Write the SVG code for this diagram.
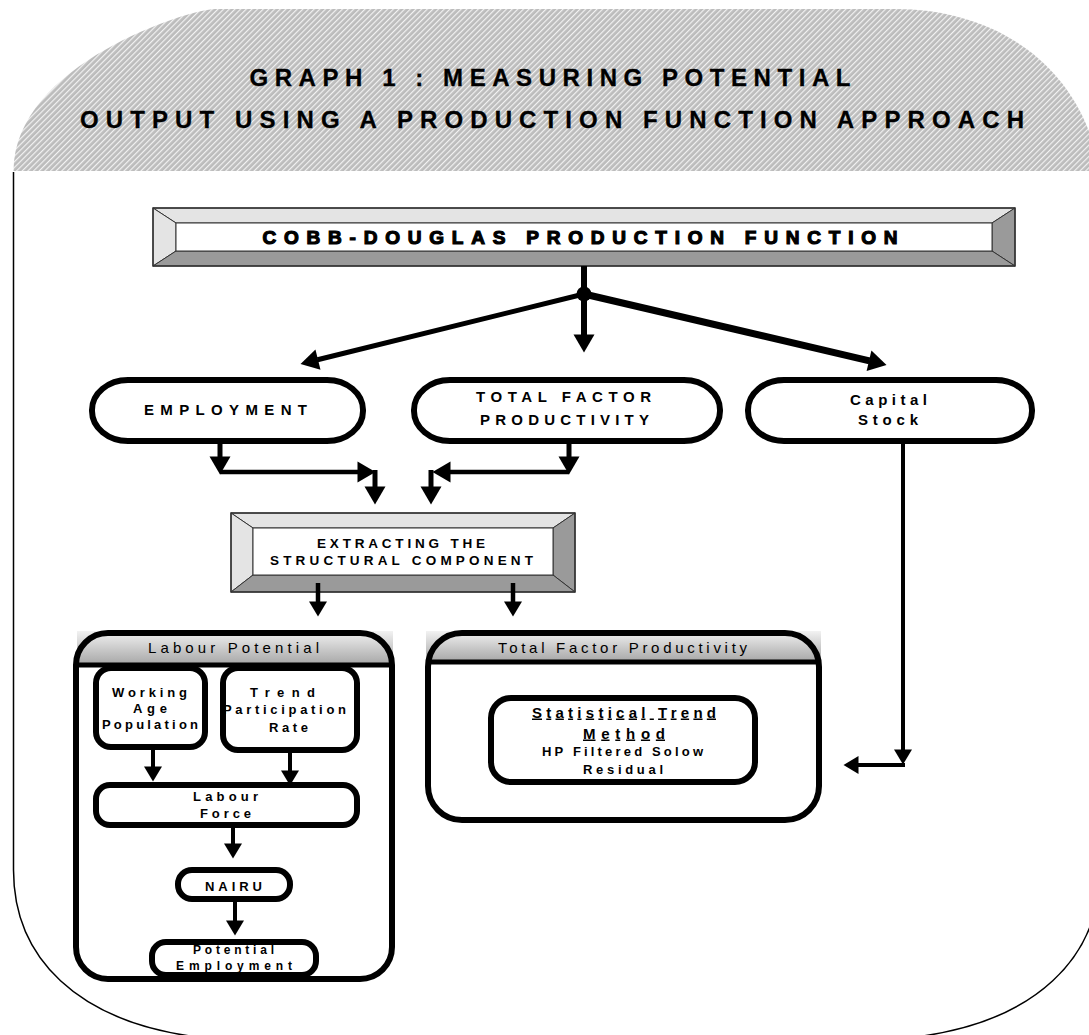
<svg xmlns="http://www.w3.org/2000/svg" width="1089" height="1035" viewBox="0 0 1089 1035">
<style>
text{font-family:"Liberation Sans",Arial,sans-serif;fill:#000;text-anchor:middle}
.b{font-weight:bold}
.node{fill:#fff;stroke:#000;stroke-width:6}
.conn{fill:none;stroke:#000;stroke-linecap:butt}
.bevL{fill:#e4e4e4;stroke:#333;stroke-width:1}
.bevD{fill:#9a9a9a;stroke:#333;stroke-width:1}
</style>
<defs>
<pattern id="hatch" patternUnits="userSpaceOnUse" width="4" height="4" patternTransform="rotate(45)">
<rect width="4" height="4" fill="#bcbcbc"/>
<rect width="1.2" height="4" fill="#f2f2f2"/>
</pattern>
<linearGradient id="hdr" x1="0" y1="0" x2="0" y2="1">
<stop offset="0" stop-color="#f2f2f2"/>
<stop offset="0.6" stop-color="#c4c4c4"/>
<stop offset="1" stop-color="#a6a6a6"/>
</linearGradient>
<marker id="ah" markerUnits="userSpaceOnUse" markerWidth="20" markerHeight="22" viewBox="0 -11 19 22" refX="0.5" refY="0" orient="auto">
<path d="M0,-10.5 L18,0 L0,10.5 z" fill="#000"/>
</marker>
<marker id="as" markerUnits="userSpaceOnUse" markerWidth="17" markerHeight="20" viewBox="0 -10 16 20" refX="0.5" refY="0" orient="auto">
<path d="M0,-9 L15,0 L0,9 z" fill="#000"/>
</marker>
</defs>

<g id="frame">
<path d="M13.5,171 C13.5,64 190,9 215,9 H896 C990,9 1080,60 1100,171 Z" fill="url(#hatch)"/>
<path d="M13.5,172 V870 C13.5,960 80,1020 190,1036 M1100,870 C1100,960 1033,1020 923,1036" fill="none" stroke="#000" stroke-width="1.5"/>
<text class="b" x="550" y="86" font-size="24" stroke="#000" stroke-width="0.3" textLength="601" lengthAdjust="spacing">GRAPH 1 : MEASURING POTENTIAL</text>
<text class="b" x="552" y="128" font-size="24" stroke="#000" stroke-width="0.3" textLength="944" lengthAdjust="spacing">OUTPUT USING A PRODUCTION FUNCTION APPROACH</text>
</g>

<g id="cobb-douglas">
<polygon class="bevL" points="153,208 1015,208 992,223 176,223"/>
<polygon class="bevL" points="153,208 176,223 176,251 153,266"/>
<polygon class="bevD" points="1015,208 1015,266 992,251 992,223"/>
<polygon class="bevD" points="153,266 176,251 992,251 1015,266"/>
<rect x="176" y="223" width="816" height="28" fill="#fff" stroke="#333" stroke-width="1"/>
<rect x="153" y="208" width="862" height="58" fill="none" stroke="#333" stroke-width="1.5"/>
<text class="b" x="580" y="244" font-size="19" stroke="#000" stroke-width="1.2" textLength="635" lengthAdjust="spacing">COBB-DOUGLAS PRODUCTION FUNCTION</text>
</g>

<g id="employment">
<rect class="node" x="92" y="380" width="271" height="61" rx="36" ry="30"/>
<text class="b" x="225.5" y="414.5" font-size="15" textLength="163" lengthAdjust="spacing">EMPLOYMENT</text>
</g>

<g id="tfp">
<rect class="node" x="414" y="380" width="306" height="61" rx="36" ry="30"/>
<text class="b" x="563.5" y="402" font-size="15" textLength="175" lengthAdjust="spacing">TOTAL FACTOR</text>
<text class="b" x="564.5" y="424.5" font-size="15" textLength="169" lengthAdjust="spacing">PRODUCTIVITY</text>
</g>

<g id="capital-stock">
<rect class="node" x="748" y="380" width="284" height="61" rx="36" ry="30"/>
<text class="b" x="888.5" y="405" font-size="15" textLength="77" lengthAdjust="spacing">Capital</text>
<text class="b" x="888" y="424.5" font-size="15" textLength="60" lengthAdjust="spacing">Stock</text>
</g>

<g id="extracting">
<polygon class="bevL" points="231,513 575,513 553,528 253,528"/>
<polygon class="bevL" points="231,513 253,528 253,575 231,592"/>
<polygon class="bevD" points="575,513 575,592 553,575 553,528"/>
<polygon class="bevD" points="231,592 253,575 553,575 575,592"/>
<rect x="253" y="528" width="300" height="47" fill="#fff" stroke="#333" stroke-width="1"/>
<rect x="231" y="513" width="344" height="79" fill="none" stroke="#333" stroke-width="1.5"/>
<text class="b" x="401" y="548" font-size="13.5" textLength="168" lengthAdjust="spacing">EXTRACTING THE</text>
<text class="b" x="401.5" y="565" font-size="13.5" textLength="263" lengthAdjust="spacing">STRUCTURAL COMPONENT</text>
</g>

<g id="labour-potential">
<rect x="77" y="631" width="316" height="34" fill="url(#hdr)"/>
<rect x="76" y="633" width="316" height="346" rx="32" ry="32" fill="none" stroke="#000" stroke-width="6"/>
<line x1="76" y1="665" x2="392" y2="665" stroke="#000" stroke-width="5"/>
<text x="233.5" y="652.5" font-size="15" textLength="171" lengthAdjust="spacing">Labour Potential</text>
</g>

<g id="working-age-population">
<rect class="node" x="96" y="668" width="109" height="79" rx="15"/>
<text class="b" x="149.5" y="697" font-size="13" textLength="75" lengthAdjust="spacing">Working</text>
<text class="b" x="150" y="713" font-size="13" textLength="34" lengthAdjust="spacing">Age</text>
<text class="b" x="150" y="729" font-size="13" textLength="96" lengthAdjust="spacing">Population</text>
</g>

<g id="trend-participation-rate">
<rect class="node" x="223" y="668" width="134" height="82" rx="15"/>
<text class="b" x="282.5" y="697" font-size="13" textLength="65" lengthAdjust="spacing">Trend</text>
<text class="b" x="284.5" y="714" font-size="13" textLength="123" lengthAdjust="spacing">Participation</text>
<text class="b" x="288.5" y="732" font-size="13" textLength="39" lengthAdjust="spacing">Rate</text>
</g>

<g id="labour-force">
<rect class="node" x="96" y="785" width="261" height="40" rx="14"/>
<text class="b" x="225.5" y="801" font-size="13" textLength="65" lengthAdjust="spacing">Labour</text>
<text class="b" x="225.5" y="818" font-size="13" textLength="51" lengthAdjust="spacing">Force</text>
</g>

<g id="nairu">
<rect class="node" x="178" y="870" width="112" height="29" rx="14"/>
<text class="b" x="233.5" y="891" font-size="13" textLength="57" lengthAdjust="spacing">NAIRU</text>
</g>

<g id="potential-employment">
<rect class="node" x="152" y="942" width="164" height="33" rx="14"/>
<text class="b" x="233.5" y="954" font-size="12" textLength="81" lengthAdjust="spacing">Potential</text>
<text class="b" x="234" y="970" font-size="12" textLength="116" lengthAdjust="spacing">Employment</text>
</g>

<g id="tfp-container">
<rect x="426" y="631" width="395" height="31" fill="url(#hdr)"/>
<rect x="428" y="633" width="391" height="187" rx="34" ry="34" fill="none" stroke="#000" stroke-width="6"/>
<line x1="428" y1="662" x2="819" y2="662" stroke="#000" stroke-width="5"/>
<text x="622.5" y="652.5" font-size="15" textLength="249" lengthAdjust="spacing">Total Factor Productivity</text>
</g>

<g id="statistical-trend">
<rect class="node" x="491" y="698" width="264" height="84" rx="20"/>
<text class="b" x="624" y="717.5" font-size="15" text-decoration="underline" textLength="184" lengthAdjust="spacing">Statistical Trend</text>
<text class="b" x="624" y="738.5" font-size="15" text-decoration="underline" textLength="82" lengthAdjust="spacing">Method</text>
<text class="b" x="622.5" y="756" font-size="13" textLength="161" lengthAdjust="spacing">HP Filtered Solow</text>
<text class="b" x="623" y="774" font-size="13" textLength="80" lengthAdjust="spacing">Residual</text>
</g>

<g id="connectors">
<line class="conn" x1="584" y1="266" x2="584" y2="294" stroke-width="6"/>
<circle cx="584" cy="294" r="7.5" fill="#000"/>
<line class="conn" x1="584" y1="294" x2="317.5" y2="359.7" stroke-width="5" marker-end="url(#ah)"/>
<line class="conn" x1="584" y1="294" x2="584" y2="335" stroke-width="6" marker-end="url(#ah)"/>
<line class="conn" x1="584" y1="294" x2="869.5" y2="360.9" stroke-width="7" marker-end="url(#ah)"/>

<line class="conn" x1="220" y1="443" x2="220" y2="457" stroke-width="5" marker-end="url(#ah)"/>
<line class="conn" x1="220" y1="472" x2="358" y2="472" stroke-width="4.5" marker-end="url(#ah)"/>
<line class="conn" x1="375" y1="470" x2="375" y2="487" stroke-width="5" marker-end="url(#ah)"/>

<line class="conn" x1="569" y1="443" x2="569" y2="457" stroke-width="5" marker-end="url(#ah)"/>
<line class="conn" x1="569" y1="472" x2="450" y2="472" stroke-width="4.5" marker-end="url(#ah)"/>
<line class="conn" x1="431" y1="470" x2="431" y2="487" stroke-width="5" marker-end="url(#ah)"/>

<line class="conn" x1="318" y1="583" x2="318" y2="602" stroke-width="4.5" marker-end="url(#as)"/>
<line class="conn" x1="513" y1="583" x2="513" y2="602" stroke-width="4.5" marker-end="url(#as)"/>

<line class="conn" x1="153" y1="748" x2="153" y2="767" stroke-width="4" marker-end="url(#as)"/>
<line class="conn" x1="290" y1="751" x2="290" y2="771" stroke-width="4" marker-end="url(#as)"/>
<line class="conn" x1="233" y1="823" x2="233" y2="844" stroke-width="4" marker-end="url(#as)"/>
<line class="conn" x1="235" y1="900" x2="235" y2="921" stroke-width="4" marker-end="url(#as)"/>

<line class="conn" x1="903" y1="442" x2="903" y2="750" stroke-width="4" marker-end="url(#as)"/>
<line class="conn" x1="905" y1="765" x2="858" y2="765" stroke-width="4" marker-end="url(#as)"/>
</g>
</svg>
